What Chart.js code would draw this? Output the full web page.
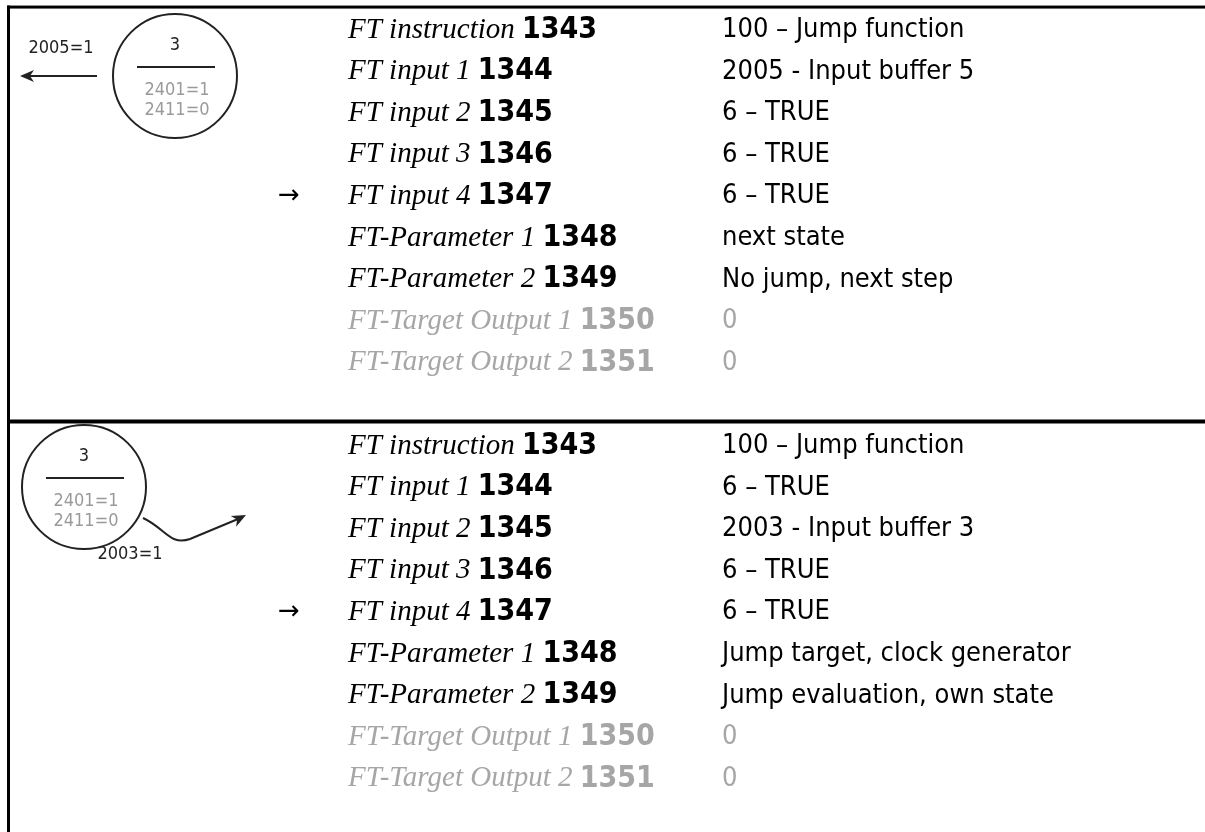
<!DOCTYPE html>
<html>
<head>
<meta charset="utf-8">
<script src="https://cdn.jsdelivr.net/npm/chart.js@4.4.1/dist/chart.umd.min.js"></script>
<style>
html, body { margin: 0; padding: 0; background: #fff; overflow: hidden; }
#wrap { width: 1205px; height: 832px; }
</style>
</head>
<body>
<div id="wrap"><canvas id="tableChart" width="1205" height="832"></canvas></div>
<script>
// parameter rows (same for both blocks)
const rowLabels = ['FT instruction', 'FT input 1', 'FT input 2', 'FT input 3', 'FT input 4',
    'FT-Parameter 1', 'FT-Parameter 2', 'FT-Target Output 1', 'FT-Target Output 2'];
const rowNumbers = ['1343', '1344', '1345', '1346', '1347', '1348', '1349', '1350', '1351'];
const valuesBlock1 = ['100 \u2013 Jump function', '2005 - Input buffer 5', '6 \u2013 TRUE', '6 \u2013 TRUE',
    '6 \u2013 TRUE', 'next state', 'No jump, next step', '0', '0'];
const valuesBlock2 = ['100 \u2013 Jump function', '6 \u2013 TRUE', '2003 - Input buffer 3', '6 \u2013 TRUE',
    '6 \u2013 TRUE', 'Jump target, clock generator', 'Jump evaluation, own state', '0', '0'];
const inactiveRows = [7, 8];
const markedRow = 4;
// state bubbles
const stateNumbers = ['3', '3'];
const stateConditions = [['2401=1', '2411=0'], ['2401=1', '2411=0']];
const transitionLabels = ['2005=1', '2003=1'];

const blocks = [valuesBlock1, valuesBlock2];
const ROWS_PER_BLOCK = 10; // 9 rows + one slot for the separator

const SERIF_IT = 'italic 29px "Liberation Serif", "Times New Roman", serif';
const SANS = '"DejaVu Sans Condensed", "DejaVu Sans", sans-serif';
const GREY = '#a6a6a6';

const points = [];
blocks.forEach((vals, b) => {
    vals.forEach((v, r) => points.push({ x: 0, y: b * ROWS_PER_BLOCK + r }));
});

function drawBubble(ctx, cx, cy, b) {
    ctx.save();
    ctx.strokeStyle = '#222';
    ctx.lineWidth = 2;
    ctx.beginPath();
    ctx.arc(cx, cy, 62, 0, Math.PI * 2);
    ctx.stroke();
    ctx.beginPath();
    ctx.moveTo(cx - 38, cy - 9);
    ctx.lineTo(cx + 40, cy - 9);
    ctx.stroke();
    ctx.textAlign = 'center';
    ctx.textBaseline = 'middle';
    ctx.font = '18px ' + SANS;
    ctx.fillStyle = '#222';
    ctx.fillText(stateNumbers[b], cx, cy - 31);
    ctx.fillStyle = '#9a9a9a';
    ctx.fillText(stateConditions[b][0], cx + 2, cy + 14);
    ctx.fillText(stateConditions[b][1], cx + 2, cy + 34);
    ctx.restore();
}

function arrowHead(ctx, x, y, angle) {
    ctx.save();
    ctx.translate(x, y);
    ctx.rotate(angle);
    ctx.beginPath();
    ctx.moveTo(0, 0);
    ctx.lineTo(-14, -6);
    ctx.lineTo(-10, 0);
    ctx.lineTo(-14, 6);
    ctx.closePath();
    ctx.fill();
    ctx.restore();
}

const tablePlugin = {
    id: 'tablePlugin',
    afterDraw(chart) {
        const ctx = chart.ctx;
        const y = chart.scales.y;
        ctx.save();

        // frame lines
        ctx.fillStyle = '#000';
        const topY = y.getPixelForValue(-0.55);
        const midY = y.getPixelForValue(9.4);
        ctx.fillRect(7, topY - 1.5, 1205, 3);
        ctx.fillRect(7, midY - 1.5, 1205, 4);
        ctx.fillRect(7, topY - 1.5, 3, 832);

        blocks.forEach((vals, b) => {
            vals.forEach((val, r) => {
                const py = y.getPixelForValue(b * ROWS_PER_BLOCK + r);
                const grey = inactiveRows.includes(r);
                ctx.textBaseline = 'middle';
                ctx.textAlign = 'left';
                ctx.fillStyle = grey ? GREY : '#000';
                ctx.font = SERIF_IT;
                ctx.fillText(rowLabels[r], 348, py);
                const w = ctx.measureText(rowLabels[r] + ' ').width;
                ctx.font = 'bold 30px ' + SANS;
                ctx.fillText(rowNumbers[r], 348 + w, py);
                ctx.font = '27px ' + SANS;
                ctx.fillText(val, 722, py);
                if (r === markedRow) {
                    ctx.fillStyle = '#000';
                    ctx.font = '26px "DejaVu Sans", sans-serif';
                    ctx.fillText('\u2192', 278, py);
                }
            });
        });

        // bubble 1 with outgoing arrow to the left
        drawBubble(ctx, 175, 76, 0);
        ctx.fillStyle = '#222';
        ctx.font = '18px ' + SANS;
        ctx.textAlign = 'center';
        ctx.textBaseline = 'middle';
        ctx.fillText(transitionLabels[0], 61, 48);
        ctx.strokeStyle = '#222';
        ctx.lineWidth = 2;
        ctx.beginPath();
        ctx.moveTo(97, 76);
        ctx.lineTo(28, 76);
        ctx.stroke();
        arrowHead(ctx, 20, 76, Math.PI);

        // bubble 2 with curved arrow to the right
        drawBubble(ctx, 84, 487, 1);
        ctx.fillStyle = '#222';
        ctx.font = '18px ' + SANS;
        ctx.fillText(transitionLabels[1], 130, 554);
        ctx.beginPath();
        ctx.moveTo(143, 518);
        ctx.bezierCurveTo(165, 528, 170, 546, 190, 539);
        ctx.lineTo(238, 519);
        ctx.stroke();
        arrowHead(ctx, 246, 515, Math.atan2(-4, 8));

        ctx.restore();
    }
};

new Chart(document.getElementById('tableChart').getContext('2d'), {
    type: 'scatter',
    data: {
        datasets: [{
            data: points,
            pointRadius: 0
        }]
    },
    options: {
        responsive: false,
        animation: false,
        layout: { padding: 0 },
        plugins: {
            legend: { display: false },
            tooltip: { enabled: false }
        },
        scales: {
            x: { type: 'linear', min: 0, max: 1205, display: false },
            y: { type: 'linear', min: -0.72, max: 19.28, reverse: true, display: false }
        }
    },
    plugins: [tablePlugin]
});
</script>
</body>
</html>
